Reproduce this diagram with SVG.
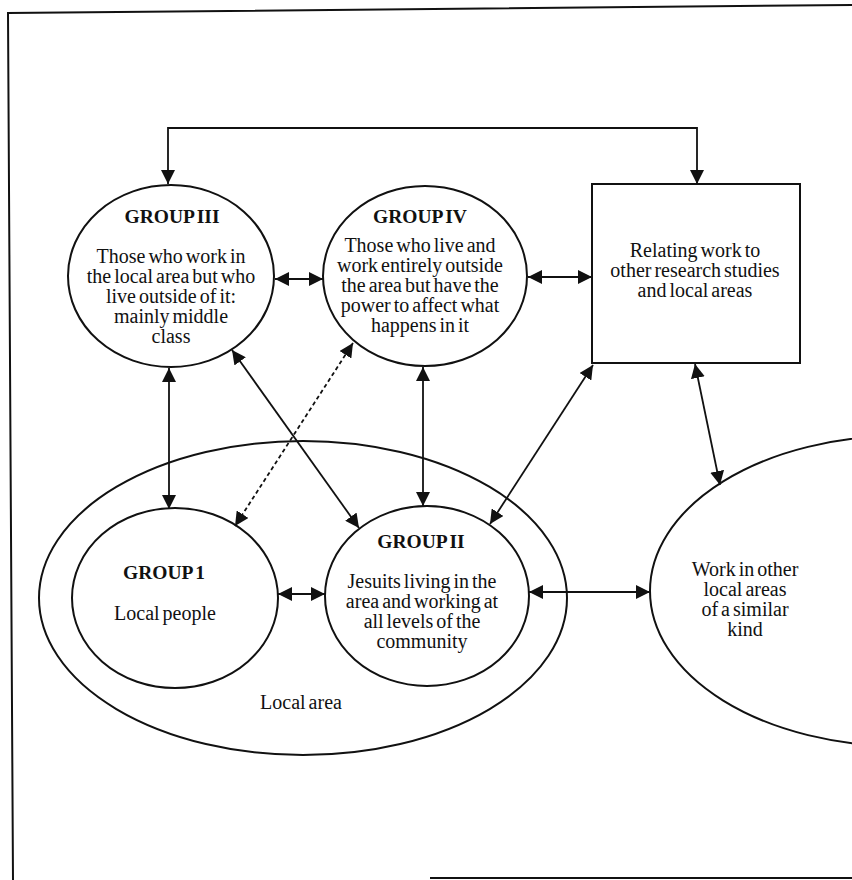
<svg xmlns="http://www.w3.org/2000/svg" width="852" height="880" viewBox="0 0 852 880">
<style>
  .shape { fill: none; stroke: #111; stroke-width: 2; }
  .conn { fill: none; stroke: #111; stroke-width: 1.8; marker-start: url(#ah); marker-end: url(#ah); }
  .dash { stroke-dasharray: 4 3; }
  text { font-family: "Liberation Serif", "Times New Roman", serif; font-size: 20px; fill: #111; text-anchor: middle; word-spacing: -2px; }
  .hd { font-weight: bold; font-size: 19.5px; }
</style>
<defs>
  <marker id="ah" markerUnits="userSpaceOnUse" markerWidth="14" markerHeight="14" viewBox="0 0 14 14" refX="14" refY="7" orient="auto-start-reverse">
    <path d="M0,0 L14,7 L0,14 z" fill="#111"/>
  </marker>
</defs>
<rect width="852" height="880" fill="#fff"/>
<g id="frame">
  <path class="shape" d="M852,5 L8,13 L13,880"/>
  <line class="shape" x1="430" y1="878" x2="852" y2="878"/>
</g>
<g id="local-area">
  <ellipse class="shape" cx="303" cy="598" rx="264" ry="157"/>
  <text x="301" y="709">Local area</text>
</g>
<g id="group3">
  <ellipse class="shape" cx="171" cy="276" rx="103" ry="91"/>
  <text class="hd" x="172" y="223">GROUP III</text>
  <text x="171" y="263">Those who work in</text>
  <text x="171" y="283">the local area but who</text>
  <text x="171" y="303">live outside of it:</text>
  <text x="171" y="323">mainly middle</text>
  <text x="171" y="343">class</text>
</g>
<g id="group4">
  <ellipse class="shape" cx="425" cy="276" rx="102" ry="90"/>
  <text class="hd" x="420" y="223">GROUP IV</text>
  <text x="420" y="252">Those who live and</text>
  <text x="420" y="272">work entirely outside</text>
  <text x="420" y="292">the area but have the</text>
  <text x="420" y="312">power to affect what</text>
  <text x="420" y="332">happens in it</text>
</g>
<g id="research-box">
  <rect class="shape" x="592" y="184" width="208" height="179"/>
  <text x="695" y="257">Relating work to</text>
  <text x="695" y="277">other research studies</text>
  <text x="695" y="297">and local areas</text>
</g>
<g id="group1">
  <ellipse class="shape" cx="175" cy="598" rx="103" ry="90"/>
  <text class="hd" x="164" y="579">GROUP 1</text>
  <text x="165" y="620">Local people</text>
</g>
<g id="group2">
  <ellipse class="shape" cx="427" cy="596" rx="102" ry="90"/>
  <text class="hd" x="421" y="548">GROUP II</text>
  <text x="422" y="588">Jesuits living in the</text>
  <text x="422" y="608">area and working at</text>
  <text x="422" y="628">all levels of the</text>
  <text x="422" y="648">community</text>
</g>
<g id="other-areas">
  <ellipse class="shape" cx="900" cy="591" rx="250" ry="155"/>
  <text x="745" y="576">Work in other</text>
  <text x="745" y="596">local areas</text>
  <text x="745" y="616">of a similar</text>
  <text x="745" y="636">kind</text>
</g>
<g id="connectors">
  <path class="conn" d="M168,184 L168,128 L697,128 L697,184"/>
  <line class="conn" x1="275" y1="279" x2="323" y2="279"/>
  <line class="conn" x1="528" y1="277" x2="592" y2="277"/>
  <line class="conn" x1="169" y1="368" x2="169" y2="509"/>
  <line class="conn" x1="232" y1="350" x2="359" y2="528"/>
  <line class="conn dash" x1="353" y1="343" x2="235" y2="526"/>
  <line class="conn" x1="423" y1="367" x2="423" y2="506"/>
  <line class="conn" x1="593" y1="365" x2="490" y2="524"/>
  <line class="conn" x1="695" y1="364" x2="720" y2="485"/>
  <line class="conn" x1="278" y1="594" x2="325" y2="594"/>
  <line class="conn" x1="529" y1="592" x2="650" y2="592"/>
</g>
</svg>
